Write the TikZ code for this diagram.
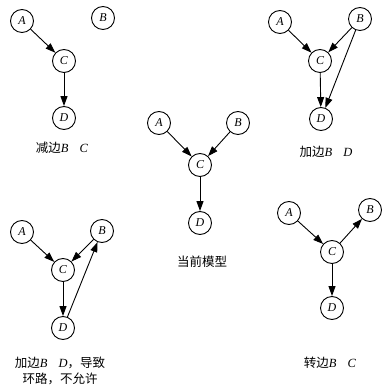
\documentclass[tikz,border=0pt]{standalone}
\usepackage{fontspec}
\setmainfont{Liberation Serif}
\newfontfamily\cjk{Noto Sans CJK SC}
\usetikzlibrary{arrows.meta}
\begin{document}
\begin{tikzpicture}[x=1pt,y=-1pt,
  vnode/.style={circle,draw,line width=0.9pt,minimum size=23pt,inner sep=0pt,font=\fontsize{12}{12}\selectfont\itshape},
  edge/.style={line width=0.9pt,-{Triangle[length=10pt,width=7pt]}},
  lab/.style={font=\fontsize{12.5}{16}\selectfont,align=center}]
\useasboundingbox (0,0) rectangle (382,387);
% panel 1
\node[vnode] (a1) at (22,21) {A};
\node[vnode] (b1) at (103,18) {B};
\node[vnode] (c1) at (64,61) {C};
\node[vnode] (d1) at (64,118) {D};
\draw[edge] (a1) -- (c1);
\draw[edge] (c1) -- (d1);
\node[lab] (l1) at (62,148) {{\cjk 减边}\textit{B}\hspace{0.9em}\textit{C}};
% panel 2
\node[vnode] (a2) at (159,123) {A};
\node[vnode] (b2) at (238,123) {B};
\node[vnode] (c2) at (200,165) {C};
\node[vnode] (d2) at (200,223) {D};
\draw[edge] (a2) -- (c2);
\draw[edge] (b2) -- (c2);
\draw[edge] (c2) -- (d2);
\node[lab] (l2) at (202,262) {\cjk 当前模型};
% panel 3
\node[vnode] (a3) at (280,22) {A};
\node[vnode] (b3) at (360,19) {B};
\node[vnode] (c3) at (320,61) {C};
\node[vnode] (d3) at (321,119) {D};
\draw[edge] (a3) -- (c3);
\draw[edge] (b3) -- (c3);
\draw[edge] (c3) -- (d3);
\draw[edge] (b3) -- (d3);
\node[lab] (l3) at (326,152) {{\cjk 加边}\textit{B}\hspace{0.9em}\textit{D}};
% panel 4
\node[vnode] (a4) at (22,232) {A};
\node[vnode] (b4) at (102,231) {B};
\node[vnode] (c4) at (63,270) {C};
\node[vnode] (d4) at (63,328) {D};
\draw[edge] (a4) -- (c4);
\draw[edge] (b4) -- (c4);
\draw[edge] (c4) -- (d4);
\draw[edge] (d4) -- (b4);
\node[lab] (l4) at (60,371) {{\cjk 加边}\textit{B}\hspace{0.9em}\textit{D}{\cjk ，导致}\\{\cjk 环路，不允许}};
% panel 5
\node[vnode] (a5) at (289,213) {A};
\node[vnode] (b5) at (370,210) {B};
\node[vnode] (c5) at (332,252) {C};
\node[vnode] (d5) at (332,308) {D};
\draw[edge] (a5) -- (c5);
\draw[edge] (c5) -- (b5);
\draw[edge] (c5) -- (d5);
\node[lab] (l5) at (330,363) {{\cjk 转边}\textit{B}\hspace{0.9em}\textit{C}};
\end{tikzpicture}
\end{document}
